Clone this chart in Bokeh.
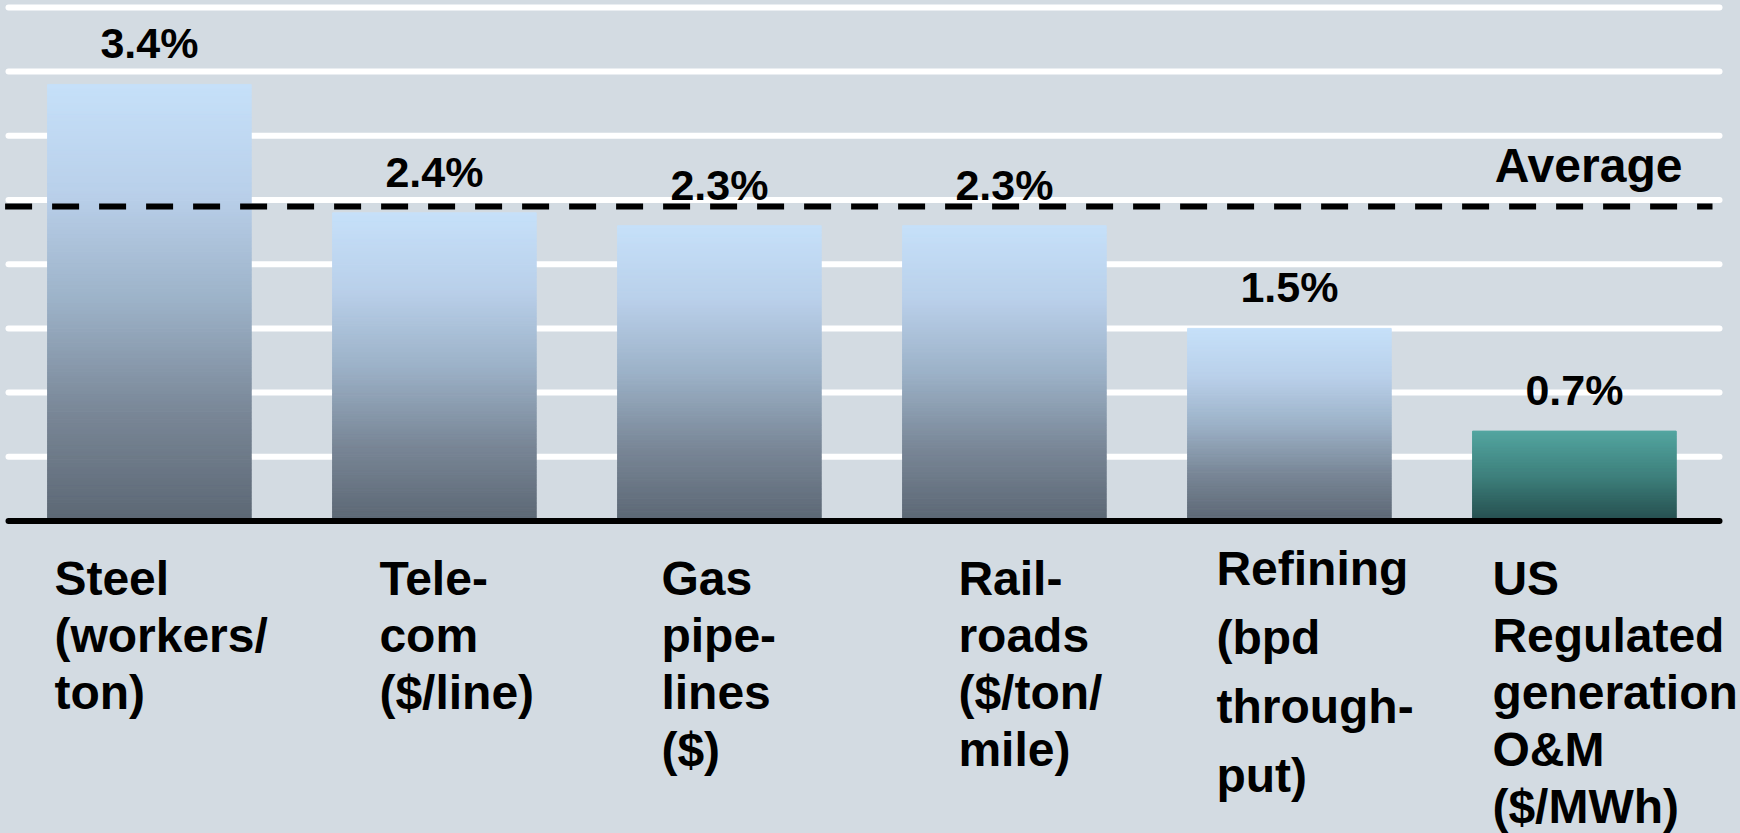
import numpy as np
from bokeh.plotting import figure
from bokeh.models import ColumnDataSource, Range1d, GlobalInlineStyleSheet
from bokeh.core.properties import value
from bokeh.embed import file_html
from bokeh.resources import INLINE

# ---------------- data ----------------
categories = [
    "Steel\n(workers/\nton)",
    "Tele-\ncom\n($/line)",
    "Gas\npipe-\nlines\n($)",
    "Rail-\nroads\n($/ton/\nmile)",
    "Refining\n(bpd\nthrough-\nput)",
    "US\nRegulated\ngeneration\nO&M\n($/MWh)",
]
values = [3.4, 2.4, 2.3, 2.3, 1.5, 0.7]
value_labels = ["3.4%", "2.4%", "2.3%", "2.3%", "1.5%", "0.7%"]
average = 2.45
average_label = "Average"
grid_ticks = [0.5, 1.0, 1.5, 2.0, 2.5, 3.0, 3.5, 4.0]
highlight = [False, False, False, False, False, True]

# ---------------- layout / style ----------------
BG = "#d3dbe2"
FONT = value("Liberation Sans")
W, H = 1740, 833
PAGE_OFF = 0
CAT_PX = 285.0      # pixels per category
CAT_LEFT = 6.4      # x of left edge of first category slot
BASE_Y = 520.5      # y of the zero line
Y_PX = 128.4        # pixels per 1 %
BAR_W = 203.6 / CAT_PX
TEXT_SHIFT = -15    # correction of the renderer's baseline placement

# per-label text placement (pixels)
label_dx = [-95, -55, -58, -46, -73, -82]
label_first = [72.5, 72.5, 72.5, 72.5, 62.5, 72.5]
label_step = [57, 57, 57, 57, 69, 57]

BLUE_STOPS = [(0.0, (198, 224, 249)), (0.25, (185, 208, 234)), (0.5, (156, 177, 199)),
              (0.75, (121, 135, 151)), (1.0, (92, 103, 116))]
TEAL_STOPS = [(0.0, (83, 165, 160)), (0.5, (62, 128, 124)), (1.0, (38, 78, 78))]


def px2x(px):
    return -0.5 + (px - CAT_LEFT) / CAT_PX


def py2y(py):
    return (BASE_Y - py) / Y_PX


def grad(stops, t):
    for (t0, c0), (t1, c1) in zip(stops[:-1], stops[1:]):
        if t <= t1:
            f = (t - t0) / (t1 - t0)
            c = [round(a + (b - a) * f) for a, b in zip(c0, c1)]
            return "#%02x%02x%02x" % tuple(c)
    return "#%02x%02x%02x" % stops[-1][1]


xs = list(range(len(categories)))

p = figure(width=W, height=H, output_backend="svg", toolbar_location=None,
           x_range=Range1d(px2x(PAGE_OFF), px2x(PAGE_OFF + W)),
           y_range=Range1d(py2y(PAGE_OFF + H), py2y(PAGE_OFF)),
           x_axis_type=None, y_axis_type=None, min_border=0)
p.min_border_left = p.min_border_right = p.min_border_top = p.min_border_bottom = 0
p.outline_line_color = None
p.background_fill_color = BG
p.border_fill_color = BG
p.stylesheets = [GlobalInlineStyleSheet(css="body { background: %s; }" % BG)]

# gridlines
p.segment(x0=px2x(8), x1=px2x(1719), y0=grid_ticks, y1=grid_ticks,
          line_color="white", line_width=6, line_cap="round")

# gradient bars (stacked thin slices of each bar)
N = 120
bx, bb, bt, bc = [], [], [], []
for i, (v, hl) in enumerate(zip(values, highlight)):
    stops = TEAL_STOPS if hl else BLUE_STOPS
    for j in range(N):
        bx.append(i)
        bb.append(v * j / N)
        bt.append(v * (j + 1) / N)
        bc.append(grad(stops, 1 - (j + 0.5) / N))
bars = ColumnDataSource(dict(x=bx, bottom=bb, top=bt, color=bc))
p.vbar(x="x", bottom="bottom", top="top", width=BAR_W, source=bars,
       fill_color="color", line_color="color", line_width=1)

# average line
p.segment(x0=px2x(4.6), x1=px2x(1712), y0=average, y1=average,
          line_color="black", line_width=6, line_dash="27 20")

# zero line
p.segment(x0=px2x(8), x1=px2x(1719), y0=0, y1=0,
          line_color="black", line_width=6, line_cap="round")

# value labels
p.text(x=xs, y=values, text=value_labels, y_offset=-26 + TEXT_SHIFT,
       text_align="center", text_baseline="alphabetic",
       text_font=FONT, text_font_style="bold", text_font_size="43px", text_color="black")

# average label
p.text(x=[xs[-1]], y=[average], text=[average_label], x_offset=108, y_offset=-25.6 + TEXT_SHIFT,
       text_align="right", text_baseline="alphabetic",
       text_font=FONT, text_font_style="bold", text_font_size="48px", text_color="black")

# category labels, one glyph per line
lx, lt, ldx, ldy = [], [], [], []
for i, cat in enumerate(categories):
    for k, line in enumerate(cat.split("\n")):
        lx.append(i)
        lt.append(line)
        ldx.append(label_dx[i])
        ldy.append(label_first[i] + k * label_step[i] + TEXT_SHIFT)
labels = ColumnDataSource(dict(x=lx, y=[0] * len(lx), text=lt, dx=ldx, dy=ldy))
p.text(x="x", y="y", text="text", x_offset="dx", y_offset="dy", source=labels,
       text_align="left", text_baseline="alphabetic",
       text_font=FONT, text_font_style="bold", text_font_size="48px", text_color="black")

open("out.html", "w").write(file_html(p, INLINE))
